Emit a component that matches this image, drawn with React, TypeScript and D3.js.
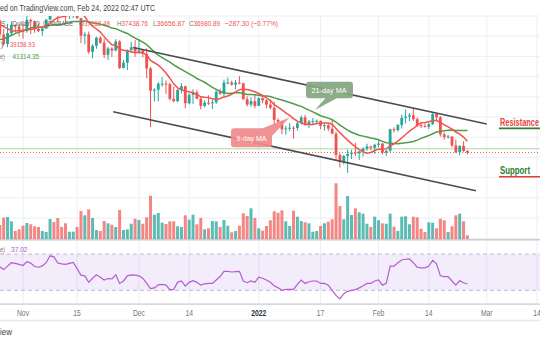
import React from "react";
import * as d3 from "d3";

const W = 540;
const H = 340;

// Daily candles Oct 26 2021 .. Feb 24 2022 (BTC/USD, Coinbase)
const days = d3.utcDay.range(new Date(Date.UTC(2021, 9, 26)), new Date(Date.UTC(2022, 1, 25)));

const opens = [63080, 60330, 58460, 60600, 62250, 61880, 61320, 61000, 63230, 62930, 61440, 61010, 61530, 63300, 67550, 66940, 64900, 64860, 64150, 64400, 65500, 63600, 60100, 60360, 56900, 58100, 59700, 58700, 56300, 57570, 57160, 58960, 53720, 54750, 57270, 57810, 56950, 57200, 56500, 53600, 49200, 49400, 50580, 50600, 50500, 47600, 47140, 49390, 50100, 46720, 48380, 48870, 47630, 46200, 46850, 46700, 46900, 49000, 48600, 50820, 50840, 50420, 50800, 50700, 47540, 46460, 47120, 46200, 47730, 47300, 46440, 45830, 43430, 43080, 41560, 41730, 41870, 41830, 42740, 43920, 42590, 43100, 43180, 43250, 42250, 42380, 41700, 40700, 36480, 35060, 36280, 36660, 36960, 36820, 37190, 37730, 38170, 37920, 38490, 38740, 36950, 37330, 41570, 41410, 42410, 43840, 44100, 44350, 43570, 42400, 42220, 42070, 42560, 44580, 43940, 40560, 40020, 40140, 38360, 37040, 38280, 37268.48];
const highs = [63290, 61450, 62460, 62950, 62300, 62400, 62400, 64300, 63500, 63100, 62600, 61600, 63300, 67800, 68500, 69000, 65600, 65500, 65000, 65550, 66300, 63600, 60800, 60950, 58400, 59900, 60000, 59500, 57900, 57800, 59400, 59200, 55300, 57400, 58900, 59200, 59100, 57400, 57600, 53900, 49700, 50900, 51900, 51200, 50800, 50000, 49500, 50700, 50200, 48700, 49500, 49400, 48000, 47300, 48300, 47500, 49300, 49600, 51400, 51800, 51200, 51300, 52100, 50700, 48100, 47900, 48500, 47900, 47950, 47500, 47500, 47050, 43700, 43100, 42300, 42800, 42200, 43000, 44300, 44400, 43400, 43800, 43500, 43250, 42700, 42600, 43500, 41100, 36800, 36500, 37500, 37500, 38900, 37200, 38000, 38700, 38300, 38700, 39300, 38850, 37400, 41700, 41950, 42600, 44500, 45500, 44800, 45800, 43900, 43000, 42750, 42900, 44750, 44600, 44200, 40950, 40500, 40150, 39500, 38400, 39200, 37438.76];
const lows = [59820, 58100, 57800, 60200, 60700, 59950, 59500, 60700, 60400, 60700, 60800, 60100, 61400, 63100, 66300, 62800, 64100, 62300, 63400, 63600, 63400, 58600, 58400, 56500, 55600, 57500, 58500, 55700, 55300, 55900, 57000, 53500, 53600, 53300, 56700, 55900, 56500, 55800, 51700, 42000, 47100, 47100, 50000, 48600, 47300, 46900, 46900, 48700, 45700, 46500, 46600, 47500, 45500, 45900, 46400, 45600, 46600, 48400, 48100, 50500, 50200, 49500, 50500, 47400, 46100, 46000, 45700, 46200, 46700, 45700, 45500, 42500, 42600, 40600, 40500, 41200, 39700, 41300, 42500, 42300, 41800, 42600, 42600, 41600, 41300, 41200, 40600, 35500, 34000, 34600, 32950, 35700, 36300, 35500, 36200, 37300, 37400, 36700, 38000, 36600, 36300, 37050, 40950, 41100, 41700, 42700, 43200, 43200, 42000, 41800, 41900, 41600, 42450, 43400, 40100, 39500, 39700, 38000, 36800, 36400, 37100, 36656.87];
const closes = [60330, 58460, 60600, 62250, 61880, 61320, 61000, 63230, 62930, 61440, 61010, 61530, 63300, 67550, 66940, 64900, 64860, 64150, 64400, 65500, 63600, 60100, 60360, 56900, 58100, 59700, 58700, 56300, 57570, 57160, 58960, 53720, 54750, 57270, 57810, 56950, 57200, 56500, 53600, 49200, 49400, 50580, 50600, 50500, 47600, 47140, 49390, 50100, 46720, 48380, 48870, 47630, 46200, 46850, 46700, 46900, 49000, 48600, 50820, 50840, 50420, 50800, 50700, 47540, 46460, 47120, 46200, 47730, 47300, 46440, 45830, 43430, 43080, 41560, 41730, 41870, 41830, 42740, 43920, 42590, 43100, 43180, 43250, 42250, 42380, 41700, 40700, 36480, 35060, 36280, 36660, 36960, 36820, 37190, 37730, 38170, 37920, 38490, 38740, 36950, 37330, 41570, 41410, 42410, 43840, 44100, 44350, 43570, 42400, 42220, 42070, 42560, 44580, 43940, 40560, 40020, 40140, 38360, 37040, 38280, 37268.19, 36980.89];
// closes Oct 6 .. Oct 25, used only to warm up the moving averages
const priorCloses = [55340, 53800, 53970, 54960, 54700, 57480, 56000, 57370, 57350, 61670, 60880, 61530, 62030, 64260, 65990, 62210, 60690, 61300, 60860, 63080];
// volume, thousand BTC
const volumes = [14.0, 21.3, 22.0, 17.7, 8.0, 9.7, 13.3, 16.0, 14.7, 12.7, 12.0, 8.0, 7.0, 20.0, 17.0, 21.0, 12.0, 15.7, 7.3, 7.3, 12.0, 28.0, 23.7, 29.7, 21.0, 9.0, 8.0, 18.0, 15.7, 14.3, 12.0, 29.0, 9.0, 9.7, 15.3, 20.3, 19.0, 15.3, 21.7, 43.3, 24.3, 26.0, 16.3, 15.0, 17.7, 17.7, 12.7, 12.0, 23.7, 19.3, 24.3, 14.7, 21.0, 9.7, 10.7, 18.0, 17.7, 12.0, 19.0, 13.3, 6.7, 8.0, 13.3, 25.7, 23.0, 30.7, 21.0, 10.7, 8.3, 13.0, 18.7, 27.7, 26.3, 28.7, 17.7, 13.0, 28.3, 22.3, 18.0, 16.7, 15.7, 7.3, 8.0, 13.0, 15.7, 17.3, 19.7, 55.7, 33.0, 19.7, 43.0, 24.0, 30.7, 26.7, 25.3, 15.3, 12.0, 22.3, 18.7, 15.7, 15.3, 25.3, 12.3, 8.0, 22.3, 22.7, 14.7, 22.3, 21.7, 10.3, 7.0, 16.7, 16.3, 10.7, 20.3, 18.7, 7.0, 12.7, 23.7, 25.3, 17.7, 3.7];
const rsiValues = [55.9, 52.9, 56.7, 60.5, 59.7, 58.6, 57.4, 61.6, 60.1, 56.3, 55.5, 57.0, 60.5, 68.1, 67.0, 60.1, 59.3, 58.6, 59.7, 60.9, 54.0, 46.8, 46.0, 38.8, 43.3, 47.1, 44.5, 41.4, 43.0, 42.6, 47.1, 37.6, 40.3, 46.0, 47.1, 46.8, 46.0, 43.3, 37.6, 31.9, 32.7, 36.1, 36.5, 35.7, 30.8, 31.1, 38.8, 40.3, 34.6, 38.8, 40.7, 38.8, 35.7, 37.2, 37.6, 37.6, 41.4, 45.2, 51.0, 51.0, 50.2, 50.6, 51.0, 40.3, 38.4, 40.3, 38.8, 44.5, 43.3, 41.4, 38.8, 35.0, 32.7, 30.0, 31.1, 31.1, 31.1, 36.5, 41.4, 37.6, 39.5, 40.3, 40.3, 37.6, 37.6, 35.7, 30.0, 24.3, 20.5, 26.2, 28.9, 30.0, 30.8, 32.7, 35.0, 37.6, 37.6, 40.3, 41.4, 35.7, 37.6, 56.7, 56.7, 60.5, 63.5, 64.3, 64.7, 60.5, 55.5, 54.8, 54.8, 56.7, 63.1, 59.3, 46.0, 45.2, 45.2, 40.3, 35.7, 40.7, 38.4, 37.02];

const tickDates = ["2021-11-01", "2021-11-15", "2021-12-01", "2021-12-14", "2022-01-01", "2022-01-17", "2022-02-01", "2022-02-14", "2022-03-01", "2022-03-14"];
const tickLabels = ["Nov", "15", "Dec", "14", "2022", "17", "Feb", "14", "Mar", "14"];
const priceGrid = d3.range(20000, 64001, 4000);

const upperChannel = [{ t: "2021-11-29T12:00:00Z", p: 57760 }, { t: "2022-03-01T00:00:00Z", p: 42620 }];
const lowerChannel = [{ t: "2021-11-24T08:00:00Z", p: 45050 }, { t: "2022-02-26T05:00:00Z", p: 29386 }];
const levelPrice = 37700;

const FONT = "'Liberation Sans', Arial, sans-serif";
const TEAL = "#26a69a";
const RED = "#ef5350";

const x = d3.scaleUtc().domain([new Date("2021-11-01T00:00:00Z"), new Date("2022-03-14T00:00:00Z")]).range([23, 537]);
const yP = d3.scaleLinear().domain([20000, 64000]).range([238.2, 16]);
const yV = d3.scaleLinear().domain([0, 60]).range([239, 179]);
const yR = d3.scaleLinear().domain([30, 70]).range([290.3, 254.1]);

const allCloses = priorCloses.concat(closes);
const sma = (n: number) =>
  closes.map((_, i) => {
    const j = i + priorCloses.length;
    return d3.mean(allCloses.slice(j - n + 1, j + 1)) as number;
  });
const ma9 = sma(9);
const ma21 = sma(21);

function T(props: any) {
  const { x: tx, y: ty, w, size = 8, fill = "#555", weight = "normal", anchor = "start", children } = props;
  return (
    <text x={tx} y={ty} fontSize={size} fill={fill} fontWeight={weight} textAnchor={anchor} fontFamily={FONT}
      textLength={w} lengthAdjust={w ? "spacingAndGlyphs" : undefined}>
      {children}
    </text>
  );
}

export default function App() {
  const line = d3.line<number>().x((_, i) => x(days[i])).y((d) => yP(d));
  const rsiLine = d3.line<number>().x((_, i) => x(days[i])).y((d) => yR(d));
  const chan = (pts: { t: string; p: number }[]) =>
    d3.line<{ t: string; p: number }>().x((d) => x(new Date(d.t))).y((d) => yP(d.p))(pts) as string;
  const bw = 2.8;
  const lastClose = closes[closes.length - 1];

  return (
    <div style={{ position: "absolute", left: 0, top: 0 }}>
      <svg width={W} height={H} viewBox={`0 0 ${W} ${H}`} style={{ display: "block" }}>
        <defs>
          <clipPath id="mainClip"><rect x={0} y={16} width={W} height={223} /></clipPath>
        </defs>
        <rect x={0} y={0} width={W} height={H} fill="#fff" />

        {/* grid */}
        {priceGrid.map((p) => (
          <line key={p} x1={0} x2={W} y1={yP(p)} y2={yP(p)} stroke="#eaeff6" strokeWidth={1} />
        ))}
        {tickDates.map((d) => (
          <line key={d} x1={x(new Date(d + "T00:00:00Z"))} x2={x(new Date(d + "T00:00:00Z"))} y1={16} y2={304} stroke="#eaeff6" strokeWidth={1} />
        ))}

        {/* RSI pane band */}
        <rect x={0} y={yR(70)} width={W} height={yR(30) - yR(70)} fill="rgba(150,80,220,0.11)" />
        <line x1={0} x2={W} y1={yR(70)} y2={yR(70)} stroke="#c4b6cc" strokeDasharray="4,3" strokeWidth={1} />
        <line x1={0} x2={W} y1={yR(30)} y2={yR(30)} stroke="#c4b6cc" strokeDasharray="4,3" strokeWidth={1} />

        {/* pane separators */}
        <line x1={0} x2={W} y1={239.8} y2={239.8} stroke="#c9ccd3" strokeWidth={1.5} />
        <line x1={0} x2={W} y1={304.2} y2={304.2} stroke="#c9ccd3" strokeWidth={1.2} />
        <line x1={0} x2={W} y1={320.6} y2={320.6} stroke="#e6e8ec" strokeWidth={1.5} />

        <g clipPath="url(#mainClip)">
          {/* volume */}
          {volumes.map((v, i) => (
            <rect key={"v" + i} x={x(days[i]) - 1.5} width={3} y={yV(v)} height={yV(0) - yV(v)}
              fill={closes[i] >= opens[i] ? "rgba(38,166,154,0.75)" : "rgba(239,83,80,0.7)"} />
          ))}
          {/* horizontal lines */}
          <line x1={0} x2={W} y1={yP(levelPrice)} y2={yP(levelPrice)} stroke="#a9d8a6" strokeWidth={1} />
          <line x1={0} x2={W} y1={yP(lastClose)} y2={yP(lastClose)} stroke={RED} strokeWidth={1} strokeDasharray="1,2" />
          {/* candles */}
          {days.map((d, i) => {
            const up = closes[i] >= opens[i];
            const c = up ? TEAL : RED;
            const cx = x(d);
            const top = yP(Math.max(opens[i], closes[i]));
            const bot = yP(Math.min(opens[i], closes[i]));
            return (
              <g key={"c" + i}>
                <line x1={cx} x2={cx} y1={yP(highs[i])} y2={yP(lows[i])} stroke={c} strokeWidth={1} />
                <rect x={cx - bw / 2} width={bw} y={top} height={Math.max(1, bot - top)} fill={c} />
              </g>
            );
          })}
          {/* moving averages */}
          <path d={line(ma21) as string} fill="none" stroke="#4e9c46" strokeWidth={1.5} />
          <path d={line(ma9) as string} fill="none" stroke="#f2544c" strokeWidth={1.5} />
          {/* channel */}
          <path d={chan(upperChannel)} stroke="#4d4d4f" strokeWidth={1.6} fill="none" />
          <path d={chan(lowerChannel)} stroke="#4d4d4f" strokeWidth={1.6} fill="none" />

          {/* callouts */}
          <g opacity={0.92}>
            <polygon points="326,97.5 338,97.5 315,110" fill="#85a67f" />
            <rect x={306} y={81.7} width={47} height={16.6} rx={3} fill="#85a67f" />
          </g>
          <T x={311.5} y={93} w={35} size={8} fill="#fff">21-day MA</T>
          <g opacity={0.92}>
            <polygon points="262,128.6 271,137 289.5,117.5" fill="#f08a8c" />
            <rect x={231} y={128.3} width={41} height={19} rx={3} fill="#f08a8c" />
          </g>
          <T x={236.5} y={141} w={30} size={8} fill="#fff">9-day MA</T>

          {/* annotations */}
          <T x={500} y={125.5} w={39} size={10} weight="bold" fill="#e5463e">Resistance</T>
          <line x1={499} x2={W} y1={128.4} y2={128.4} stroke="#2e7d32" strokeWidth={1.6} />
          <T x={500} y={173.6} w={30} size={10} weight="bold" fill="#2e7d32">Support</T>
          <line x1={499} x2={W} y1={176.8} y2={176.8} stroke="#e53935" strokeWidth={1.6} />
        </g>

        {/* RSI line */}
        <path d={rsiLine(rsiValues) as string} fill="none" stroke="#b45dd0" strokeWidth={1.2} />

        {/* legend */}
        <T x={1} y={26} w={6} fill="#666">S.</T>
        <T x={12} y={26} w={18} fill="#666">Dollar</T>
        <T x={33} y={26} w={7} fill="#666">1D</T>
        <T x={43} y={26} w={30} fill="#666">COINBASE</T>
        <text x={79} y={26} fontSize={8} fontFamily={FONT} textLength={31} lengthAdjust="spacingAndGlyphs">
          <tspan fill="#777">O</tspan><tspan fill={RED}>37268.48</tspan>
        </text>
        <text x={117} y={26} fontSize={8} fontFamily={FONT} textLength={31} lengthAdjust="spacingAndGlyphs">
          <tspan fill="#777">H</tspan><tspan fill={RED}>37438.76</tspan>
        </text>
        <text x={153} y={26} fontSize={8} fontFamily={FONT} textLength={32} lengthAdjust="spacingAndGlyphs">
          <tspan fill="#777">L</tspan><tspan fill={RED}>36656.87</tspan>
        </text>
        <text x={189} y={26} fontSize={8} fontFamily={FONT} textLength={31} lengthAdjust="spacingAndGlyphs">
          <tspan fill="#777">C</tspan><tspan fill={RED}>36980.89</tspan>
        </text>
        <T x={225} y={26} w={53} fill={RED}>−287.30 (−0.77%)</T>

        <T x={0.5} y={46.5} w={3} fill="#777">)</T>
        <T x={10} y={46.5} w={25} fill={RED}>39158.93</T>
        <T x={0} y={59} w={5} fill="#777">e)</T>
        <T x={12.5} y={59} w={26.5} fill="#4e9c46">41314.35</T>

        <T x={0} y={251.5} w={5} fill="#777">e)</T>
        <T x={11} y={251.5} w={16.5} fill="#a855c8">37.02</T>

        {/* time axis */}
        {tickDates.map((d, i) => (
          <text key={"t" + d} transform={`translate(${x(new Date(d + "T00:00:00Z"))},316) scale(0.8,1)`}
            textAnchor="middle" fontSize={8.5} fontFamily={FONT}
            fill={tickLabels[i] === "2022" ? "#333" : "#777"} fontWeight={tickLabels[i] === "2022" ? "bold" : "normal"}>
            {tickLabels[i]}
          </text>
        ))}

        {/* header and footer */}
        <T x={0} y={10.5} w={155} size={8.5} fill="#444">ed on TradingView.com, Feb 24, 2022 02:47 UTC</T>
        <T x={0} y={335} w={12} size={8.5} fill="#444">iew</T>
      </svg>
    </div>
  );
}
